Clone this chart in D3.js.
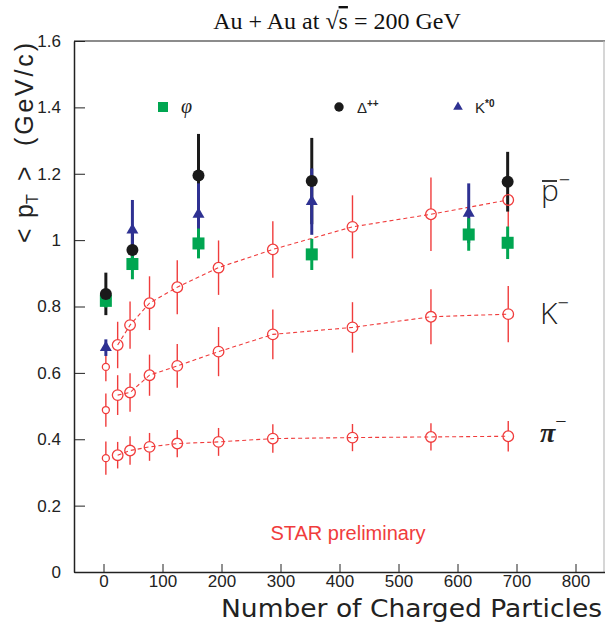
<!DOCTYPE html>
<html><head><meta charset="utf-8">
<script src="https://cdn.jsdelivr.net/npm/d3@7"></script>
<style>body{margin:0;background:#fff}</style>
</head><body>
<svg id="c" width="605" height="629"></svg>
<script>
// ---- data ----
const nch      = [4, 24, 45, 78, 125, 195, 287, 422, 555, 686];
const piMean   = [0.343, 0.352, 0.366, 0.377, 0.387, 0.392, 0.402, 0.405, 0.407, 0.409];
const piErr    = [0.050, 0.040, 0.043, 0.042, 0.041, 0.042, 0.043, 0.041, 0.041, 0.046];
const kMean    = [0.488, 0.533, 0.541, 0.593, 0.621, 0.664, 0.716, 0.737, 0.769, 0.777];
const kErr     = [0.050, 0.060, 0.058, 0.062, 0.066, 0.074, 0.075, 0.076, 0.083, 0.085];
const pbarMean = [0.618, 0.684, 0.744, 0.810, 0.858, 0.917, 0.972, 1.040, 1.078, 1.121];
const pbarErr  = [0.043, 0.070, 0.071, 0.081, 0.081, 0.082, 0.085, 0.095, 0.111, 0.100];

const deltaX    = [4, 49, 161, 353, 685];
const deltaMean = [0.838, 0.970, 1.195, 1.178, 1.176];
const deltaErr  = [0.064, 0.050, 0.125, 0.130, 0.090];

const kstarX    = [4, 49, 161, 353, 619];
const kstarMean = [0.676, 1.030, 1.078, 1.116, 1.081];
const kstarErr  = [0.025, 0.091, 0.093, 0.100, 0.090];

const phiX    = [4, 49, 161, 353, 619, 685];
const phiMean = [0.817, 0.928, 0.990, 0.957, 1.017, 0.992];
const phiErr  = [0.020, 0.046, 0.045, 0.047, 0.049, 0.049];

const xTicks = [0, 100, 200, 300, 400, 500, 600, 700, 800];
const xTickLabels = ["0","100","200","300","400","500","600","700","800"];
const yTicks = [0, 0.2, 0.4, 0.6, 0.8, 1.0, 1.2, 1.4, 1.6];
const yTickLabels = ["0","0.2","0.4","0.6","0.8","1","1.2","1.4","1.6"];

// ---- drawing ----
const RED = "#f03c3c", GREEN = "#00a651", BLUE = "#2e3192", BLACK = "#1a1a1a";
const svg = d3.select("#c");
const x = d3.scaleLinear().domain([-50, 850]).range([74, 605]);
const y = d3.scaleLinear().domain([0, 1.6]).range([572, 41]);

// frame
svg.append("line").attr("x1", x(-50)).attr("x2", x(850)).attr("y1", y(1.6)).attr("y2", y(1.6))
  .attr("stroke", "#666").attr("stroke-width", 1.6);
svg.append("line").attr("x1", x(850) - 1).attr("x2", x(850) - 1).attr("y1", y(1.6)).attr("y2", y(0))
  .attr("stroke", "#bbb").attr("stroke-width", 1.2);

// y axis
const yMinor = d3.range(0, 1.6001, 0.05);
const gy = svg.append("g").attr("transform", `translate(${x(-50)},0)`);
gy.call(d3.axisLeft(y).tickValues(yMinor).tickSize(-6).tickFormat(""));
gy.call(d3.axisLeft(y).tickValues(yTicks).tickSizeInner(-11).tickSizeOuter(0).tickPadding(13)
  .tickFormat((d, i) => yTickLabels[i]));
gy.selectAll("text").attr("font-family", "Liberation Sans, Arial, sans-serif").attr("font-size", 17).attr("fill", "#222");
gy.selectAll("line").attr("stroke", "#222");
gy.selectAll(".domain").attr("stroke", "#222").attr("stroke-width", 1.5);

// x axis
const xMinor = d3.range(-40, 850, 20);
const gx = svg.append("g").attr("transform", `translate(0,${y(0)})`);
gx.call(d3.axisBottom(x).tickValues(xMinor).tickSize(-4).tickFormat(""));
gx.call(d3.axisBottom(x).tickValues(xTicks).tickSizeInner(-8).tickSizeOuter(0).tickPadding(3)
  .tickFormat((d, i) => xTickLabels[i]));
gx.selectAll("text").attr("font-family", "Liberation Sans, Arial, sans-serif").attr("font-size", 17).attr("fill", "#222");
gx.selectAll("line").attr("stroke", "#222");
gx.selectAll(".domain").attr("stroke", "#222").attr("stroke-width", 1.5);

// title
const title = svg.append("text").attr("x", 337).attr("y", 29).attr("text-anchor", "middle")
  .attr("font-family", "Liberation Serif, Times New Roman, serif").attr("font-size", 24).attr("fill", "#111");
title.append("tspan").text("Au + Au at √");
title.append("tspan").attr("text-decoration", "overline").text("s");
title.append("tspan").text(" = 200 GeV");

// y axis title (rotated)
const yt = svg.append("g").attr("transform", "translate(33,0) rotate(-90)")
  .attr("font-family", "Liberation Sans, Arial, sans-serif").attr("font-size", 25).attr("fill", "#222");
yt.append("text").attr("x", -243).attr("y", 0).text("<");
const ptT = yt.append("text").attr("x", -218).attr("y", 0);
ptT.append("tspan").text("p");
ptT.append("tspan").attr("font-size", 16).attr("dy", 5).text("T");
yt.append("text").attr("x", -181).attr("y", 0).text(">");
yt.append("text").attr("x", -146).attr("y", 0).attr("textLength", 103).attr("lengthAdjust", "spacing").text("(GeV/c)");

// x axis title
svg.append("text").attr("x", 602).attr("y", 617).attr("text-anchor", "end")
  .attr("font-family", "DejaVu Sans, sans-serif").attr("font-size", 25)
  .attr("textLength", 381).attr("lengthAdjust", "spacingAndGlyphs").attr("fill", "#222")
  .text("Number of Charged Particles");

// STAR preliminary
svg.append("text").attr("x", 348).attr("y", 540).attr("text-anchor", "middle")
  .attr("font-family", "Liberation Sans, Arial, sans-serif").attr("font-size", 20).attr("fill", RED)
  .text("STAR preliminary");

// ---- red series ----
const redSeries = [
  {m: piMean, e: piErr},
  {m: kMean, e: kErr},
  {m: pbarMean, e: pbarErr}
];
const gRed = svg.append("g");
const gRedMarks = svg.append("g");
const line = d3.line().x(d => x(d[0])).y(d => y(d[1]));
redSeries.forEach(s => {
  const pts = nch.map((v, i) => [v, s.m[i], s.e[i], i === 0 ? 3.5 : 5.3]);
  gRed.append("path").attr("d", line(pts.slice(1))).attr("fill", "none")
    .attr("stroke", RED).attr("stroke-width", 1.1).attr("stroke-dasharray", "4,3");
  pts.forEach(p => {
    const cx = x(p[0]), cy = y(p[1]);
    gRed.append("line").attr("x1", cx).attr("x2", cx).attr("y1", y(p[1] + p[2])).attr("y2", cy - p[3])
      .attr("stroke", RED).attr("stroke-width", 1.4);
    gRed.append("line").attr("x1", cx).attr("x2", cx).attr("y1", cy + p[3]).attr("y2", y(p[1] - p[2]))
      .attr("stroke", RED).attr("stroke-width", 1.4);
    gRedMarks.append("circle").attr("cx", cx).attr("cy", cy).attr("r", p[3])
      .attr("fill", "none").attr("stroke", RED).attr("stroke-width", 1.3);
  });
});

// ---- resonances: error bars ----
const gBars = svg.append("g");
function bars(xs, ms, es, col) {
  xs.forEach((v, i) => {
    gBars.append("line").attr("x1", x(v)).attr("x2", x(v))
      .attr("y1", y(ms[i] + es[i])).attr("y2", y(ms[i] - es[i]))
      .attr("stroke", col).attr("stroke-width", 3);
  });
}
bars(deltaX, deltaMean, deltaErr, BLACK);
bars(kstarX, kstarMean, kstarErr, BLUE);
bars(phiX, phiMean, phiErr, GREEN);

const gMarks = svg.append("g");
phiX.forEach((v, i) => {
  gMarks.append("rect").attr("x", x(v) - 6).attr("y", y(phiMean[i]) - 6).attr("width", 12).attr("height", 12).attr("fill", GREEN);
});
const tri = d3.symbol().type(d3.symbolTriangle).size(62);
kstarX.forEach((v, i) => {
  gMarks.append("path").attr("d", tri()).attr("transform", `translate(${x(v)},${y(kstarMean[i])})`).attr("fill", BLUE);
});
deltaX.forEach((v, i) => {
  gMarks.append("circle").attr("cx", x(v)).attr("cy", y(deltaMean[i])).attr("r", 6).attr("fill", BLACK);
});
svg.node().appendChild(gRedMarks.node());

// ---- legend ----
const lg = svg.append("g");
lg.append("rect").attr("x", 158).attr("y", 102).attr("width", 10).attr("height", 10).attr("fill", GREEN);
lg.append("text").attr("x", 181).attr("y", 113).attr("font-family", "Liberation Serif, serif")
  .attr("font-style", "italic").attr("font-size", 20).attr("fill", "#222").text("φ");
lg.append("circle").attr("cx", 339).attr("cy", 107).attr("r", 4.7).attr("fill", BLACK);
const dt = lg.append("text").attr("x", 357).attr("y", 113).attr("font-family", "Liberation Sans, Arial, sans-serif")
  .attr("font-size", 15).attr("fill", "#222");
dt.append("tspan").text("Δ");
dt.append("tspan").attr("font-size", 10).attr("dy", -6).attr("font-weight", "bold").text("++");
lg.append("path").attr("d", d3.symbol().type(d3.symbolTriangle).size(40)()).attr("transform", "translate(458,107)").attr("fill", BLUE);
const kt = lg.append("text").attr("x", 475).attr("y", 113).attr("font-family", "Liberation Sans, Arial, sans-serif")
  .attr("font-size", 15).attr("fill", "#222");
kt.append("tspan").text("K");
kt.append("tspan").attr("font-size", 10).attr("dy", -6).attr("font-weight", "bold").text("*0");

// ---- particle labels ----
const lab = svg.append("g").attr("fill", "#222");
const pl = lab.append("text").attr("x", 541).attr("y", 201).attr("font-family", "Open Sans, Liberation Sans, sans-serif")
  .attr("font-weight", 300).attr("font-size", 30);
pl.append("tspan").text("p");
pl.append("tspan").attr("font-size", 20).attr("dy", -14).text("−");
lab.append("line").attr("x1", 542).attr("x2", 557).attr("y1", 181).attr("y2", 181)
  .attr("stroke", "#222").attr("stroke-width", 1.8);
const kl = lab.append("text").attr("x", 540).attr("y", 324).attr("font-family", "Open Sans, Liberation Sans, sans-serif")
  .attr("font-weight", 300).attr("font-size", 30);
kl.append("tspan").text("K");
kl.append("tspan").attr("font-size", 20).attr("dy", -14).text("−");
const pil = lab.append("text").attr("x", 540).attr("y", 442).attr("font-family", "Liberation Serif, serif")
  .attr("font-style", "italic").attr("font-weight", "bold").attr("font-size", 28);
pil.append("tspan").text("π");
pil.append("tspan").attr("font-size", 20).attr("dy", -14).attr("font-style", "normal").attr("font-weight", "normal").text("−");
</script>
</body></html>
